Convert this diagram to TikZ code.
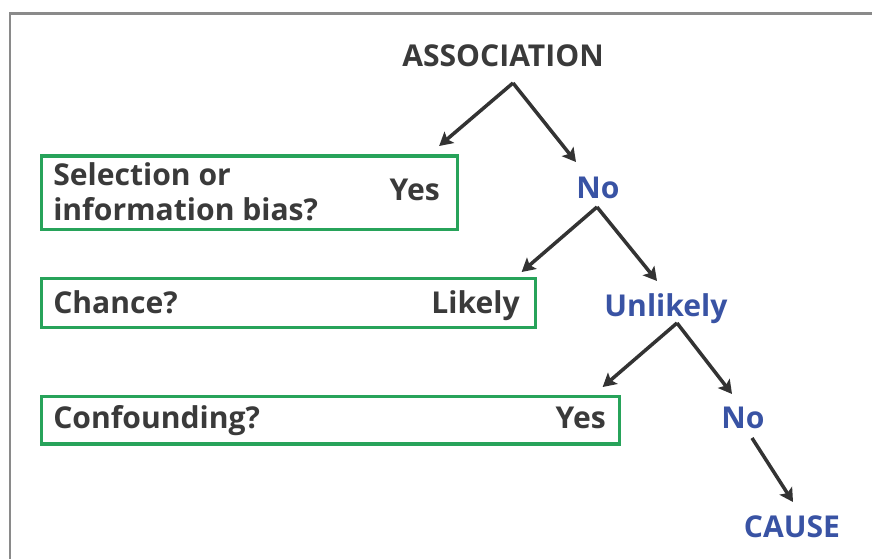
\documentclass[tikz,border=0pt]{standalone}
\usepackage{fontspec}
\setmainfont{Open Sans}
\usetikzlibrary{arrows.meta}
\definecolor{txtgray}{HTML}{3A3A3A}
\definecolor{pathblue}{HTML}{3953A4}
\definecolor{boxgreen}{HTML}{27A35A}
\definecolor{arrowgray}{HTML}{333333}
\definecolor{framegray}{HTML}{8A8A8A}
\begin{document}
\begin{tikzpicture}[x=0.025cm, y=-0.025cm,
  every node/.style={font=\fontsize{21.4}{24.8}\selectfont\bfseries, text=txtgray, inner sep=0pt},
  pathlabel/.style={text=pathblue, anchor=base},
  qbox/.style={draw=boxgreen, line width=2.5pt, anchor=north west, minimum width=#1},
  arr/.style={draw=arrowgray, line width=2.5pt, -{Stealth[length=9.5pt, width=10.5pt, inset=2pt]}}]
  \useasboundingbox (0,0) rectangle (872,559);
  % frame, only left and top edges are visible
  \draw[framegray, line width=1.8pt] (10,559) -- (10,13.5) -- (872,13.5);

  % the three checks
  \node[qbox=10.4cm, minimum height=1.84cm] (selbox) at (39.5,154) {};
  \node[qbox=12.35cm, minimum height=1.225cm] (chbox) at (39.5,276.5) {};
  \node[qbox=14.45cm, minimum height=1.19cm] (cfbox) at (39.5,394.5) {};
  \node[anchor=base west, align=left] (selq) at (53,220) {Selection or\\information bias?};
  \node[anchor=base west] (chq) at (53,313) {Chance?};
  \node[anchor=base west] (cfq) at (53,428) {Confounding?};
  \node[anchor=base east] (sela) at (440,200) {Yes};
  \node[anchor=base east] (cha) at (520,313) {Likely};
  \node[anchor=base east] (cfa) at (606,428) {Yes};

  % the main path
  \node[anchor=base] (assoc) at (503,66) {ASSOCIATION};
  \node[pathlabel] (no1) at (598,198) {No};
  \node[pathlabel] (unl) at (666,316) {Unlikely};
  \node[pathlabel] (no2) at (743,428) {No};
  \node[pathlabel] (cause) at (792,537) {CAUSE};

  \draw[arr] ([shift={(10,17)}]assoc.base) -- ([shift={(-20,-8)}]selbox.north east);
  \draw[arr] ([shift={(10,17)}]assoc.base) -- ([shift={(-22,-36)}]no1.base);
  \draw[arr] ([shift={(-1,9)}]no1.base) -- ([shift={(-15.5,-4.5)}]chbox.north east);
  \draw[arr] ([shift={(-1,9)}]no1.base) -- ([shift={(-9,-35)}]unl.base);
  \draw[arr] ([shift={(11,7)}]unl.base) -- ([shift={(-18.5,-7.5)}]cfbox.north east);
  \draw[arr] ([shift={(11,7)}]unl.base) -- ([shift={(-11,-34)}]no2.base);
  \draw[arr] ([shift={(9,10)}]no2.base) -- ([shift={(1,-35)}]cause.base);
\end{tikzpicture}
\end{document}
